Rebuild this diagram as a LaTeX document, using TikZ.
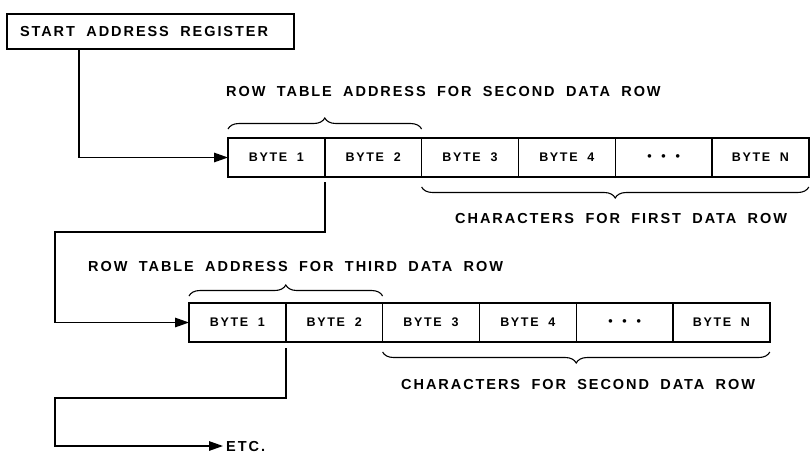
\documentclass[tikz,border=0pt]{standalone}
\usepackage{fontspec}
\setmainfont{Liberation Sans}
\newfontfamily\lblfont[LetterSpace=13.4,WordSpace=1.9]{Liberation Sans Bold}
\usetikzlibrary{arrows.meta,positioning,decorations.pathreplacing,calc}

\begin{document}
\begin{tikzpicture}[x=1pt,y=-1pt,
  txt/.style={font=\lblfont\fontsize{14.5}{16}\selectfont},
  cell/.style={draw,line width=1.4pt,minimum width=96.8pt,minimum height=39pt,inner sep=0pt,outer sep=0pt,font=\lblfont\fontsize{12.5}{14}\selectfont},
  lbl/.style={txt,anchor=west,inner sep=0pt},
  brc/.style={decorate,decoration={brace,amplitude=11pt},line width=1.1pt},
  conn/.style={line width=1.4pt,-{Triangle[length=14pt,width=9.5pt]}}]
\useasboundingbox (0,0) rectangle (810,453);
% start register
\node[txt,draw,line width=1.4pt,minimum width=287pt,minimum height=35pt,inner sep=0pt,outer sep=0pt] (start) at (150.5,31.5) {\makebox[261pt][l]{START ADDRESS REGISTER}};
% first row table entry
\node[cell] (b11) at (276.4,157.5) {BYTE 1};
\node[cell,right=0pt of b11] (b12) {BYTE 2};
\node[cell,right=0pt of b12] (b13) {BYTE 3};
\node[cell,right=0pt of b13] (b14) {BYTE 4};
\node[cell,right=0pt of b14] (b15) {\textbullet\ \textbullet\ \textbullet};
\node[cell,right=0pt of b15] (b16) {BYTE N};
\draw[brc] ([yshift=9pt]b11.north west) -- ([yshift=9pt]b12.north east);
\draw[brc] ([yshift=-10pt]b16.south east) -- ([yshift=-10pt]b13.south west);
\node[lbl] (sec) at (226,92) {ROW TABLE ADDRESS FOR SECOND DATA ROW};
\node[lbl] (fst) at (455,219) {CHARACTERS FOR FIRST DATA ROW};
% second row table entry
\node[cell] (b21) at (237.4,322.5) {BYTE 1};
\node[cell,right=0pt of b21] (b22) {BYTE 2};
\node[cell,right=0pt of b22] (b23) {BYTE 3};
\node[cell,right=0pt of b23] (b24) {BYTE 4};
\node[cell,right=0pt of b24] (b25) {\textbullet\ \textbullet\ \textbullet};
\node[cell,right=0pt of b25] (b26) {BYTE N};
\draw[brc] ([yshift=7pt]b21.north west) -- ([yshift=7pt]b22.north east);
\draw[brc] ([yshift=-10pt]b26.south east) -- ([yshift=-10pt]b23.south west);
\node[lbl] (thd) at (88,267) {ROW TABLE ADDRESS FOR THIRD DATA ROW};
\node[lbl] (snd) at (401,385) {CHARACTERS FOR SECOND DATA ROW};
\node[lbl] (etc) at (226,446) {ETC.};
% links
\coordinate (s1) at ($(start.south west)+(72,0)$);
\coordinate (t1) at (55,232);
\coordinate (t2) at (55,398);
\draw[conn] (s1) |- (b11.west);
\draw[conn] ([yshift=-5pt]b11.south east) |- (t1) |- (b21.west);
\draw[conn] ([yshift=-6pt]b21.south east) |- (t2) |- ([xshift=-3pt]etc.west);
\end{tikzpicture}
\end{document}
